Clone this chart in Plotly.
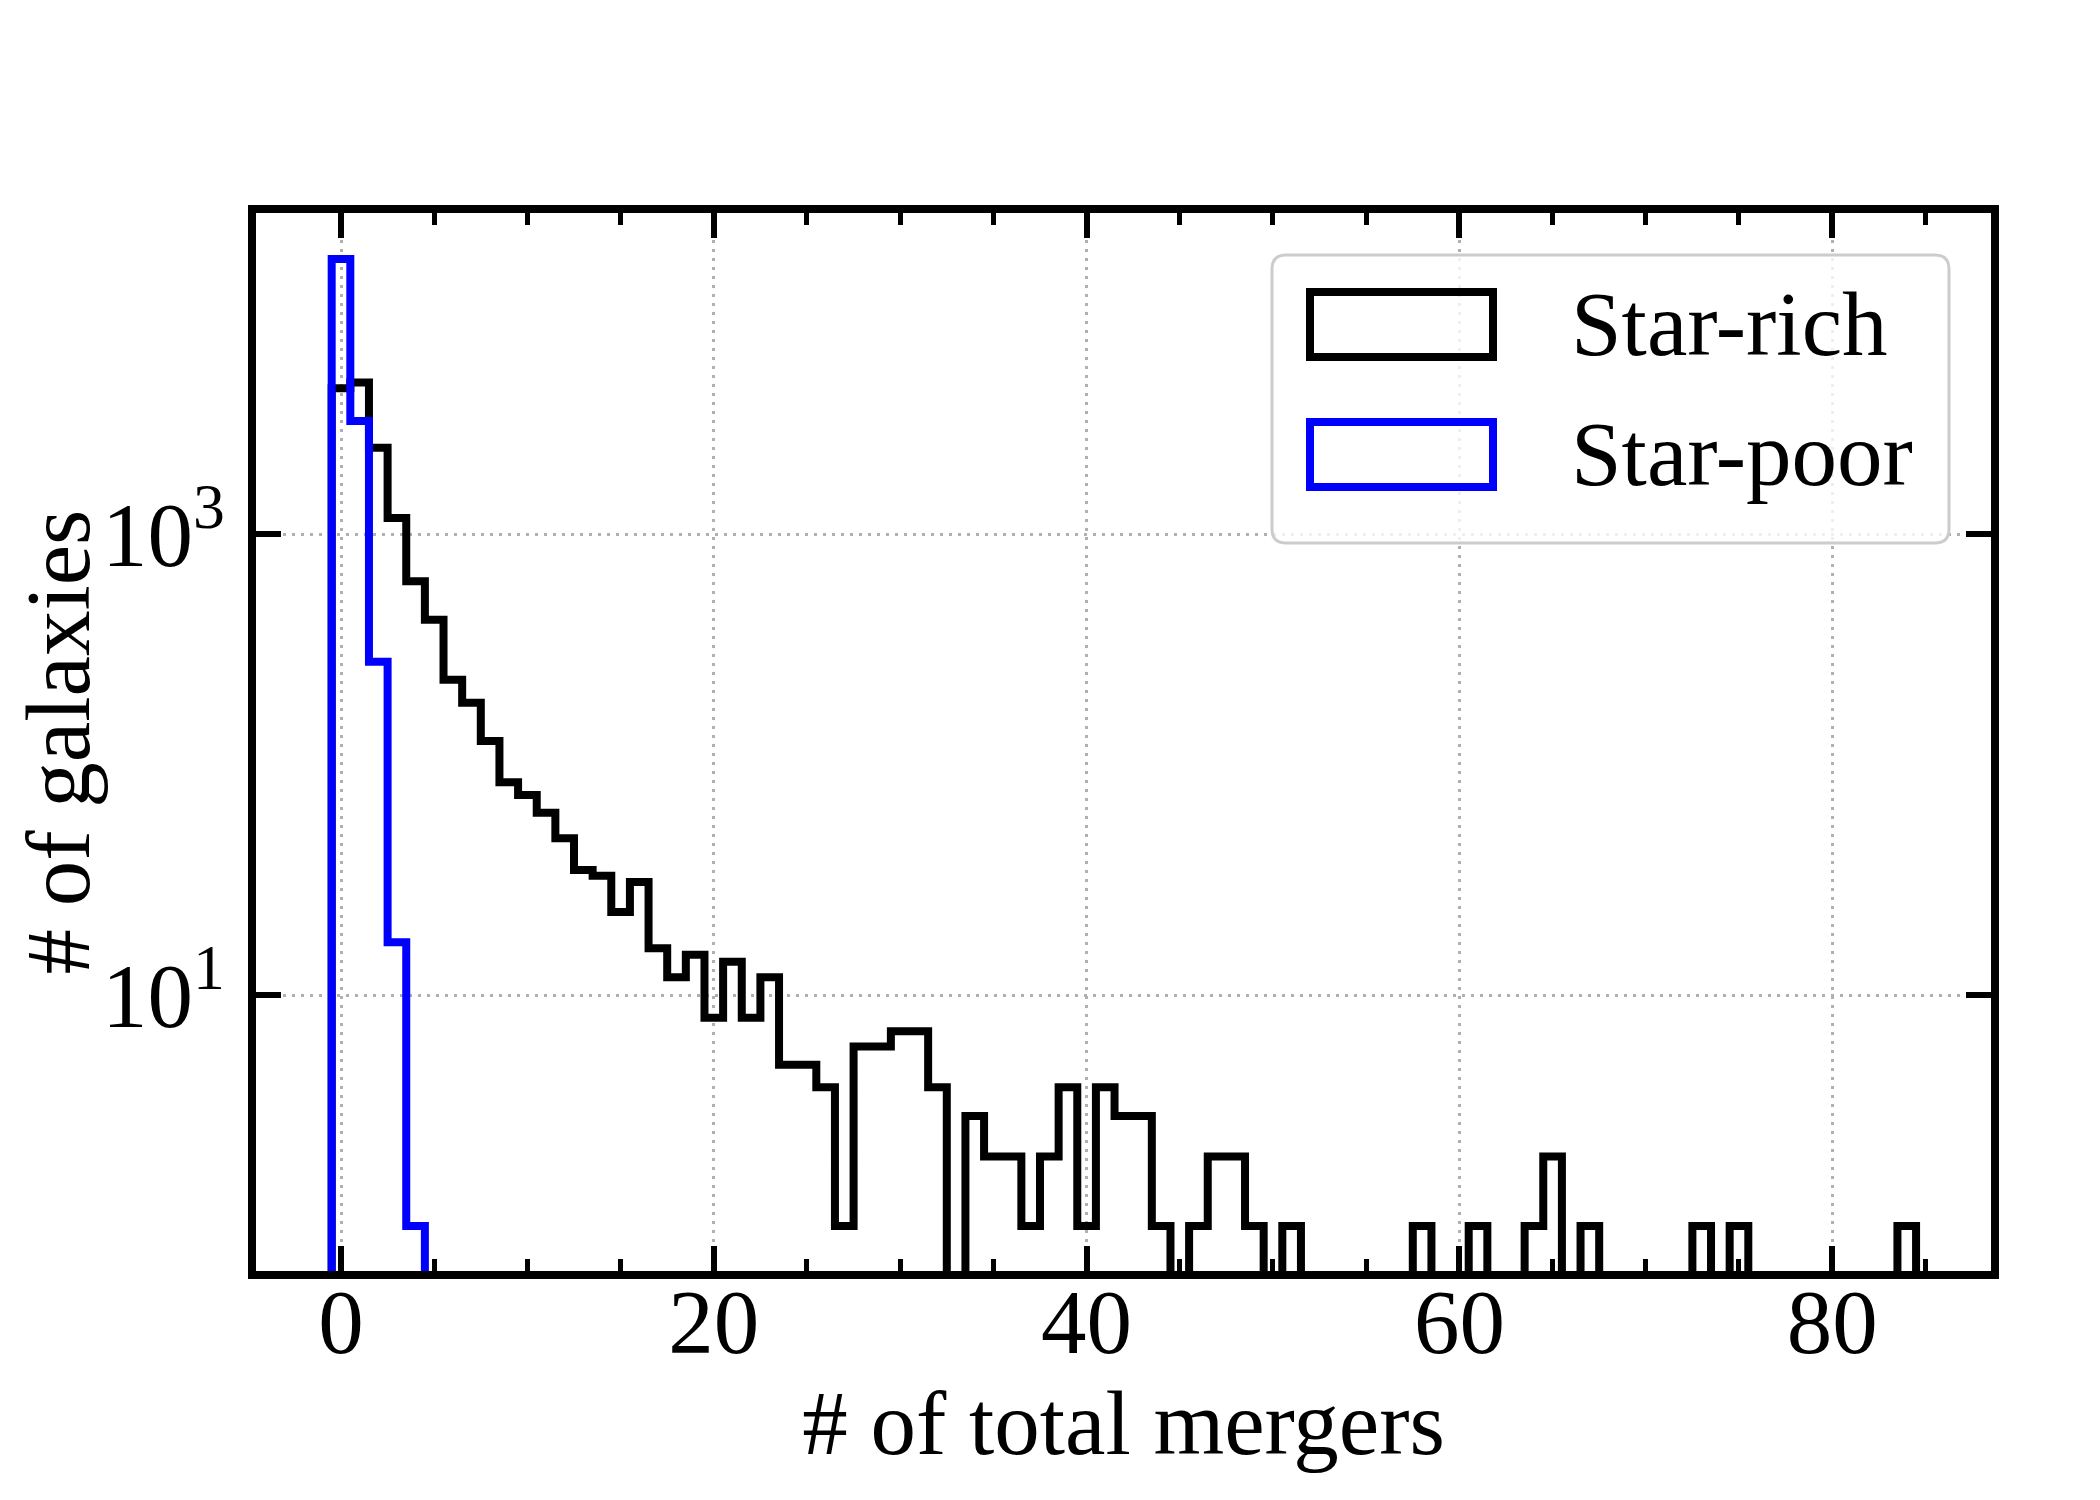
import plotly.graph_objects as go

# ---------------- data ----------------
bin_centers = list(range(0, 85))
star_rich = [4300, 4550, 2370, 1175, 625, 426, 234, 186, 127, 84,
             74, 62, 48, 35, 33, 23, 31, 16, 12, 15,
             8, 14, 8, 12, 5, 5, 4, 1, 6, 6,
             7, 7, 4, 0, 3, 2, 2, 1, 2, 4,
             1, 4, 3, 3, 1, 0, 1, 2, 2, 1,
             0, 1, 0, 0, 0, 0, 0, 0, 1, 0,
             0, 1, 0, 0, 1, 2, 0, 1, 0, 0,
             0, 0, 0, 1, 0, 1, 0, 0, 0, 0,
             0, 0, 0, 0, 1]
poor_centers = [0, 1, 2, 3, 4]
star_poor = [15600, 3100, 280, 17, 1]

series_names = ["Star-rich", "Star-poor"]
series_colors = ["#000000", "#0000ff"]
x_tick_vals = [0, 20, 40, 60, 80]
y_tick_vals = [10, 1000]
y_tick_text = ["10<sup>1</sup>", "10<sup>3</sup>"]

FLOOR = 1e-3  # zero counts drop below the axis (clipped), like matplotlib


def step_xy(centers, counts):
    edges = [c - 0.5 for c in centers] + [centers[-1] + 0.5]
    xs = [edges[0]] + edges
    ys = [FLOOR] + [c if c > 0 else FLOOR for c in counts] + [FLOOR]
    return xs, ys


W, H = 2100, 1500
OFF = 8  # page body margin
# plot-area edges in page pixels
PL, PR, PT, PB = 256, 1991, 213, 1271
ML, MR, MT, MB = PL - OFF, W - (PR - OFF), PT - OFF, H - (PB - OFF)
PW = PR - PL
PH = PB - PT


def px(xp):  # page pixel -> paper
    return (xp - PL) / PW


def py(yp):
    return (PB - yp) / PH


fig = go.Figure()
for centers, counts, name, col in [(bin_centers, star_rich, series_names[0], series_colors[0]),
                                   (poor_centers, star_poor, series_names[1], series_colors[1])]:
    xs, ys = step_xy(centers, counts)
    fig.add_trace(go.Scatter(x=xs, y=ys, mode="lines", name=name,
                             line=dict(color=col, width=8, shape="hv", simplify=False),
                             showlegend=False, hoverinfo="skip"))

FONT = "Liberation Serif"
axis_common = dict(
    ticks="inside", ticklen=25, tickwidth=5.5, tickcolor="black",
    showline=True, linewidth=8, linecolor="black", mirror="allticks",
    showgrid=True, gridcolor="#b0b0b0", gridwidth=2.7, griddash="3px,6px",
    zeroline=False, tickfont=dict(family=FONT, size=91, color="black"),
)

fig.update_xaxes(range=[-4.56, 88.52], tickmode="array", tickvals=x_tick_vals,
                 ticklabelstandoff=-35,
                 minor=dict(dtick=5, tick0=0, ticks="inside", ticklen=12, tickwidth=4.5,
                            tickcolor="black", showgrid=False),
                 title=dict(text="# of total mergers", font=dict(family=FONT, size=91), standoff=17),
                 **axis_common)
fig.update_yaxes(type="log", range=[-0.195, 4.393], tickmode="array",
                 tickvals=y_tick_vals, ticktext=y_tick_text, ticklabelstandoff=5,
                 title=dict(text="# of galaxies", font=dict(family=FONT, size=91), standoff=18),
                 **axis_common)

# ---------------- legend (matplotlib style) ----------------
bx0, bx1, by0, by1, r = 1272, 1949, 255, 543, 14
rx, ry = r / PW, r / PH
X0, X1, Y0, Y1 = px(bx0), px(bx1), py(by1), py(by0)
path = (f"M{X0+rx},{Y0} L{X1-rx},{Y0} Q{X1},{Y0} {X1},{Y0+ry} "
        f"L{X1},{Y1-ry} Q{X1},{Y1} {X1-rx},{Y1} L{X0+rx},{Y1} "
        f"Q{X0},{Y1} {X0},{Y1-ry} L{X0},{Y0+ry} Q{X0},{Y0} {X0+rx},{Y0} Z")
fig.add_shape(type="path", path=path, xref="paper", yref="paper",
              line=dict(color="#cccccc", width=3), fillcolor="rgba(255,255,255,0.8)", layer="above")

patch_rows = [(292, 357), (422, 487)]
for (t, b), name, col in zip(patch_rows, series_names, series_colors):
    fig.add_shape(type="rect", xref="paper", yref="paper",
                  x0=px(1310), x1=px(1493), y0=py(b), y1=py(t),
                  line=dict(color=col, width=8), fillcolor="rgba(0,0,0,0)", layer="above")
    fig.add_annotation(text=name, xref="paper", yref="paper", x=px(1569), y=py((t + b) / 2),
                       xanchor="left", yanchor="middle", showarrow=False,
                       font=dict(family=FONT, size=91, color="black"))

fig.update_layout(width=W, height=H, margin=dict(l=ML, r=MR, t=MT, b=MB),
                  plot_bgcolor="white", paper_bgcolor="white",
                  font=dict(family=FONT, size=91, color="black"), showlegend=False)

fig.write_html("out.html")
